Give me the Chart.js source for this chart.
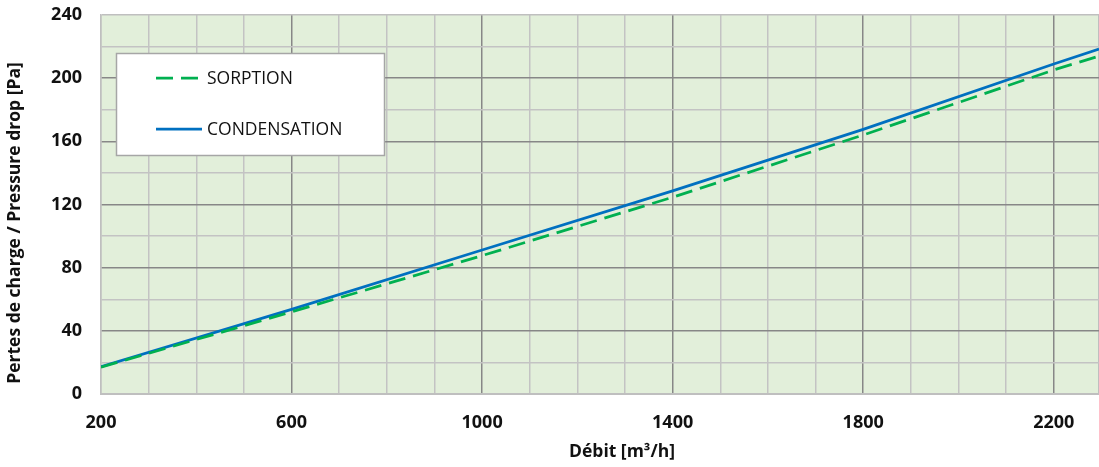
<!DOCTYPE html>
<html><head><meta charset="utf-8">
<script src="https://cdn.jsdelivr.net/npm/chart.js@4"></script>
<style>html,body{margin:0;padding:0;background:#fff}</style>
</head><body>
<canvas id="c" width="1099" height="467"></canvas>
<script>
const flowRates = [200, 600, 1000, 1400, 1800, 2200, 2295];
const sorption = [17, 52, 87.6, 124.6, 164, 205.2, 214];
const condensation = [17.3, 53.6, 91.2, 128.6, 167.6, 209, 218.5];
const seriesNames = ['SORPTION', 'CONDENSATION'];
const xTickLabels = [200, 600, 1000, 1400, 1800, 2200];
const yTickLabels = [0, 40, 80, 120, 160, 200, 240];
const xTitle = 'Débit [m³/h]';
const yTitle = 'Pertes de charge / Pressure drop [Pa]';

const X_MIN = 200, X_MAX = 2295, X_STEP = 100;
const FONT = '"Open Sans", sans-serif';
const toPts = (ys) => flowRates.map((x, i) => ({x, y: ys[i]}));

const bgPlugin = {
  id: 'bg',
  beforeDraw(chart) {
    const {ctx, chartArea: a} = chart;
    ctx.save();
    ctx.fillStyle = '#E2EFDA';
    ctx.fillRect(a.left, a.top, a.right - a.left, a.bottom - a.top);
    ctx.restore();
  }
};

const overlayPlugin = {
  id: 'overlay',
  afterDraw(chart) {
    const ctx = chart.ctx;
    ctx.save();
    ctx.fillStyle = '#fff';
    ctx.fillRect(116, 53, 268, 102);
    ctx.strokeStyle = '#A6A6A6';
    ctx.lineWidth = 1.5;
    ctx.strokeRect(116.5, 53.5, 268, 102);
    const rows = [78, 129];
    chart.data.datasets.forEach((ds, i) => {
      ctx.beginPath();
      ctx.strokeStyle = ds.borderColor;
      ctx.lineWidth = ds.borderWidth;
      ctx.setLineDash(ds.borderDash || []);
      ctx.moveTo(156, rows[i]);
      ctx.lineTo(202, rows[i]);
      ctx.stroke();
      ctx.setLineDash([]);
      ctx.fillStyle = '#111';
      ctx.font = '17.5px ' + FONT;
      ctx.textBaseline = 'middle';
      ctx.textAlign = 'left';
      ctx.fillText(ds.label, 207, rows[i] + 1);
    });
    ctx.fillStyle = '#111';
    ctx.font = 'bold 17.5px ' + FONT;
    ctx.textAlign = 'center';
    ctx.textBaseline = 'middle';
    ctx.fillText(xTitle, 622, 452);
    ctx.translate(15, 223);
    ctx.rotate(-Math.PI / 2);
    ctx.fillText(yTitle, 0, 0);
    ctx.restore();
  }
};

const rv = (c) => (c.tick ? Math.round(c.tick.value) : null);
const xColor = (c) => {
  const v = rv(c);
  if (v === null || v <= X_MIN || v >= X_MAX) return '#BFBFBF';
  return xTickLabels.includes(v) ? '#878787' : '#C3C3C3';
};
const yColor = (c) => {
  const v = rv(c);
  if (v === null || v <= 0 || v >= 240) return '#BFBFBF';
  return yTickLabels.includes(v) ? '#878787' : '#C3C3C3';
};
const zeroPad = (s) => { s.paddingLeft = 0; s.paddingRight = 0; s.paddingTop = 0; s.paddingBottom = 0; };

new Chart(document.getElementById('c'), {
  type: 'line',
  data: {
    datasets: [
      {label: seriesNames[0], data: toPts(sorption), borderColor: '#00B050', borderWidth: 2.75,
       borderDash: [17, 8], pointRadius: 0, tension: 0, fill: false},
      {label: seriesNames[1], data: toPts(condensation), borderColor: '#0070C0', borderWidth: 2.75,
       pointRadius: 0, tension: 0, fill: false}
    ]
  },
  options: {
    responsive: false,
    animation: false,
    devicePixelRatio: 1,
    layout: {padding: {top: 15, right: 0, left: 0, bottom: 0}},
    plugins: {legend: {display: false}, tooltip: {enabled: false}},
    scales: {
      x: {
        type: 'linear', min: X_MIN, max: X_MAX,
        afterBuildTicks: (s) => {
          const t = [];
          for (let v = X_MIN; v < X_MAX; v += X_STEP) t.push({value: v});
          t.push({value: X_MAX});
          s.ticks = t;
        },
        afterFit: (s) => { s.height = 73; zeroPad(s); },
        grid: {color: xColor, lineWidth: 1.5, drawTicks: false},
        border: {display: true, color: '#BFBFBF', width: 2},
        ticks: {
          autoSkip: false, maxRotation: 0, padding: 18,
          color: '#111', font: {family: FONT, size: 18, weight: 'bold'},
          callback: (v) => xTickLabels.includes(Math.round(v)) ? String(Math.round(v)) : ''
        }
      },
      y: {
        min: 0, max: 240,
        afterFit: (s) => { s.width = 101; zeroPad(s); },
        grid: {color: yColor, lineWidth: 1.5, drawTicks: false},
        border: {display: true, color: '#BFBFBF', width: 1.5},
        ticks: {
          stepSize: 20, autoSkip: false, padding: 19,
          color: '#111', font: {family: FONT, size: 18, weight: 'bold'},
          callback: (v) => yTickLabels.includes(Math.round(v)) ? String(Math.round(v)) : ''
        }
      }
    }
  },
  plugins: [bgPlugin, overlayPlugin]
});
</script>
</body></html>
